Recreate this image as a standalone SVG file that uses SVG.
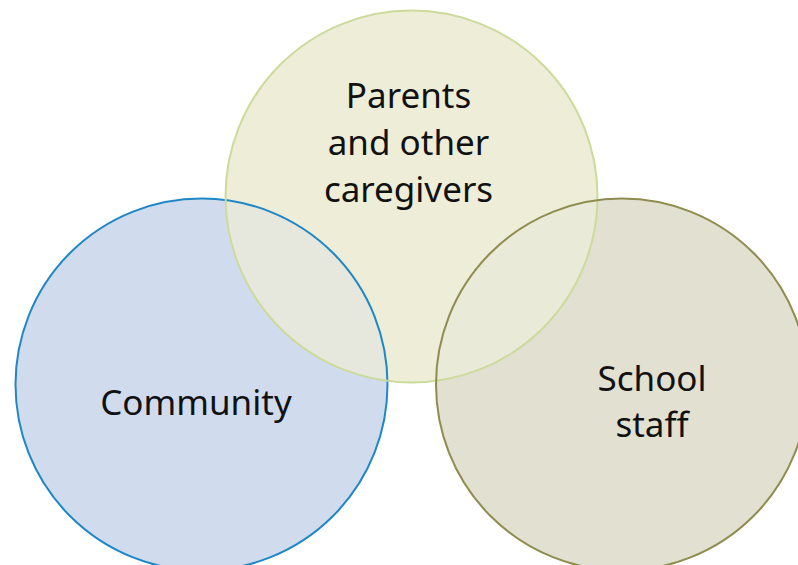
<svg xmlns="http://www.w3.org/2000/svg" width="798" height="565" viewBox="0 0 798 565">
<style>
.lbl{font-family:"Noto Sans","Open Sans","DejaVu Sans",sans-serif;font-size:35px;fill:#111;text-anchor:middle}
.ol{fill:none;stroke-width:2}
</style>
<defs>
<clipPath id="clipL"><circle cx="201.5" cy="384.5" r="186"/></clipPath>
<clipPath id="clipR"><circle cx="622" cy="384.5" r="186"/></clipPath>
</defs>
<rect width="798" height="565" fill="#ffffff"/>
<g id="community">
<circle cx="201.5" cy="384.5" r="186" fill="#D0DCEE"/>
</g>
<g id="parents">
<circle cx="411.5" cy="196.5" r="186" fill="#EDEDD8"/>
</g>
<g id="school">
<circle cx="622" cy="384.5" r="186" fill="#E1E0D1"/>
</g>
<g id="overlaps">
<circle cx="411.5" cy="196.5" r="186" fill="#E6E8DE" clip-path="url(#clipL)"/>
<circle cx="411.5" cy="196.5" r="186" fill="#EAEAD8" clip-path="url(#clipR)"/>
</g>
<g id="outlines">
<circle class="ol" cx="201.5" cy="384.5" r="186" stroke="#1F87C6"/>
<circle class="ol" cx="411.5" cy="196.5" r="186" stroke="#CCDB9B"/>
<circle class="ol" cx="622" cy="384.5" r="186" stroke="#8E8C4E"/>
</g>
<g id="labels">
<text class="lbl" x="408.5" y="108">Parents</text>
<text class="lbl" x="408.5" y="155">and other</text>
<text class="lbl" x="408.5" y="202">caregivers</text>
<text class="lbl" x="196" y="415">Community</text>
<text class="lbl" x="652" y="391">School</text>
<text class="lbl" x="652" y="437">staff</text>
</g>
</svg>
